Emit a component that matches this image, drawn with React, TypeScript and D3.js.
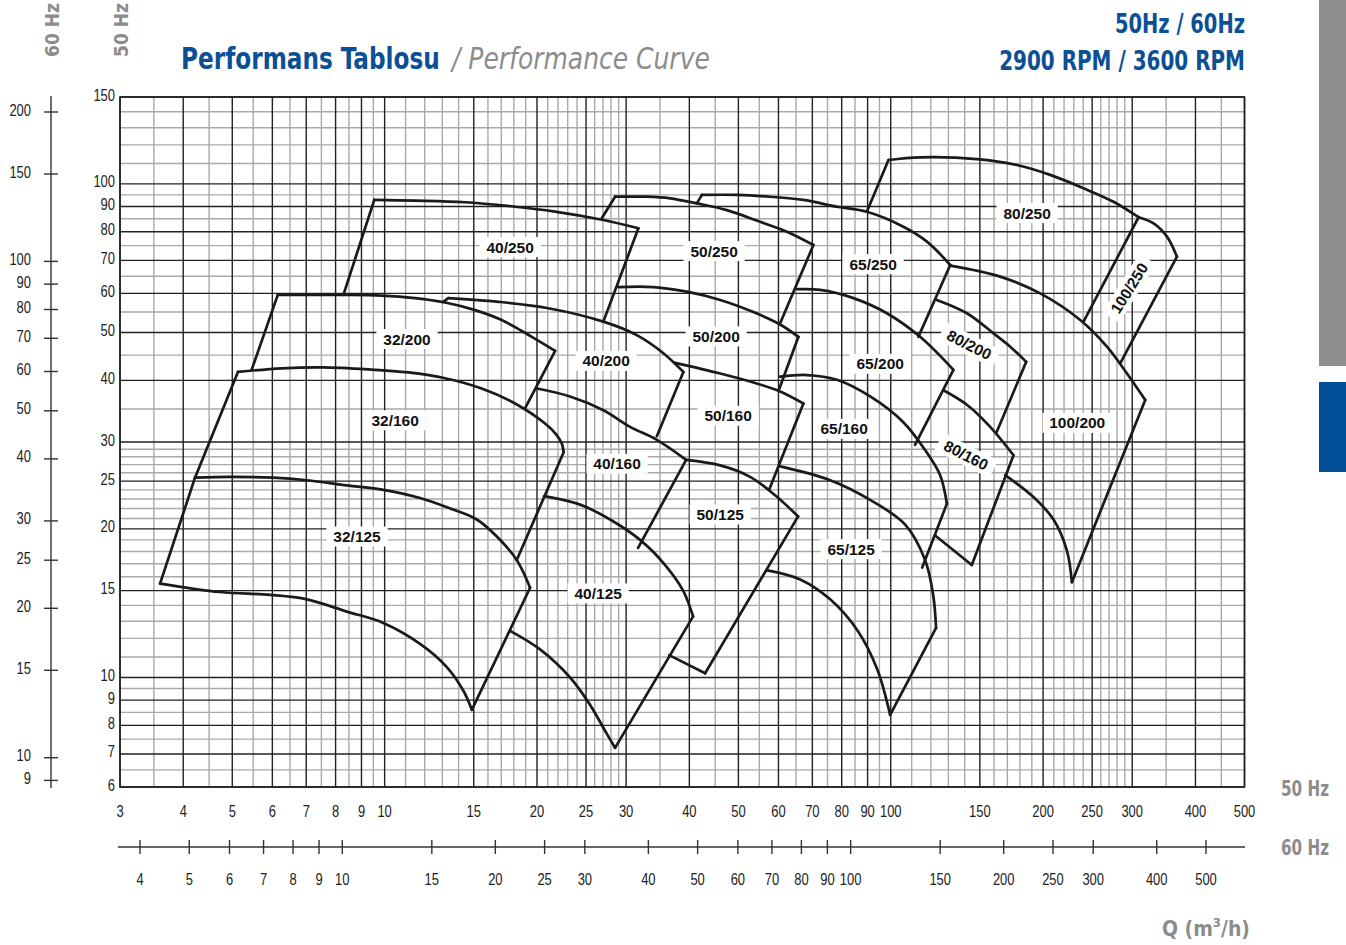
import React, { useEffect, useLayoutEffect, useRef, useState } from 'react';
import * as d3 from 'd3';

type Pt = [number, number];

// log paper grid (Q in m3/h, H in m)
const xMajor = [3, 4, 5, 6, 7, 8, 9, 10, 15, 20, 25, 30, 40, 50, 60, 70, 80, 90, 100, 150, 200, 250, 300, 400, 500];
const xMinor = [3.5, 4.5, 5.5, 6.5, 7.5, 8.5, 9.5, 11, 12, 13, 14, 16, 17, 18, 19, 21, 22, 23, 24, 26, 27, 28, 29,
  35, 45, 55, 65, 75, 85, 95, 110, 120, 130, 140, 160, 170, 180, 190, 210, 220, 230, 240, 260, 270, 280, 290, 350, 450];
const yMajor = [6, 7, 8, 9, 10, 15, 20, 25, 30, 40, 50, 60, 70, 80, 90, 100, 150];
const yMinor = [6.5, 7.5, 8.5, 9.5, 11, 12, 13, 14, 16, 17, 18, 19, 21, 22, 23, 24, 26, 27, 28, 29,
  35, 45, 55, 65, 75, 85, 95, 110, 120, 130, 140];

const qTicks60 = [4, 5, 6, 7, 8, 9, 10, 15, 20, 25, 30, 40, 50, 60, 70, 80, 90, 100, 150, 200, 250, 300, 400, 500];
const hTicks60 = [9, 10, 15, 20, 25, 30, 40, 50, 60, 70, 80, 90, 100, 150, 200];

// impeller curves [Q, H] at 50 Hz
const c32_125_top: Pt[] = [[4.22, 25.4], [4.95, 25.5], [6.03, 25.4], [7.02, 25.1], [8.42, 24.5], [9.94, 24.0], [11.75, 23.1], [13.47, 22.0], [15.21, 20.9], [16.66, 19.3], [18.24, 17.3], [19.38, 15.2]];
const c32_125_bot: Pt[] = [[3.6, 15.5], [4.73, 14.9], [5.94, 14.7], [7.02, 14.4], [8.42, 13.6], [9.94, 12.9], [11.75, 11.7], [13.27, 10.5], [14.31, 9.4], [14.87, 8.6]];
const c32_160_top: Pt[] = [[5.13, 41.6], [6.26, 42.3], [7.51, 42.5], [9.29, 42.1], [11.14, 41.5], [13.17, 40.4], [15.55, 38.5], [18.1, 35.9], [20.75, 32.7], [21.82, 31.1], [22.39, 29.8], [22.58, 28.6]];
const c32_200_top: Pt[] = [[6.15, 59.6], [8.23, 59.6], [9.87, 59.4], [11.48, 58.7], [13.17, 57.5], [15.09, 55.5], [17.03, 53.0], [19.53, 49.0], [21.72, 45.9]];
const c40_250_top: Pt[] = [[9.54, 92.8], [11.48, 92.5], [14.42, 91.8], [18.1, 89.9], [21.55, 88.0], [27.05, 84.5], [31.72, 81.3]];
const c40_200_top: Pt[] = [[13.36, 58.7], [16.78, 57.7], [21.06, 56.0], [27.05, 52.6], [31.49, 49.4], [35.54, 45.4], [38.93, 41.6]];
const c40_160_top: Pt[] = [[20.01, 38.5], [23.25, 37.1], [27.05, 34.8], [30.55, 32.2], [34.5, 30.3], [39.42, 27.6]];
const c40_125_top: Pt[] = [[20.65, 23.3], [24.33, 22.4], [27.89, 20.9], [31.97, 19.0], [35.83, 16.9], [38.88, 15.0], [40.69, 13.3]];
const c40_125_bot: Pt[] = [[17.77, 12.4], [20.28, 11.4], [23.25, 10.0], [25.47, 8.8], [27.26, 7.8], [28.53, 7.2]];
const c50_250_top: Pt[] = [[28.53, 94.2], [32.96, 94.2], [36.66, 93.5], [41.39, 91.3], [47.44, 88.5], [55.2, 83.8], [62.34, 80.0], [70.34, 75.2]];
const c50_200_top: Pt[] = [[28.96, 61.8], [33.97, 61.8], [39.54, 60.5], [46.03, 58.2], [53.55, 55.0], [60.46, 51.9], [65.7, 49.0]];
const c50_160_top: Pt[] = [[37.5, 43.4], [46.03, 41.3], [53.55, 39.6], [60.0, 38.1], [67.21, 35.9]];
const c50_125_top: Pt[] = [[39.42, 27.6], [46.03, 26.9], [52.75, 25.5], [59.1, 23.4], [65.61, 21.2]];
const c65_250_top: Pt[] = [[42.35, 95.0], [49.65, 95.0], [57.77, 94.2], [67.21, 92.8], [78.25, 89.9], [89.7, 87.8], [105.9, 81.9], [117.9, 76.4], [131.1, 68.5]];
const c65_200_top: Pt[] = [[65.23, 61.2], [72.53, 61.0], [84.4, 58.7], [98.24, 54.7], [114.3, 49.0], [133.0, 42.0]];
const c65_160_top: Pt[] = [[60.46, 40.7], [68.26, 41.0], [78.25, 40.1], [91.06, 37.1], [105.9, 32.9], [116.9, 28.9], [125.2, 25.7], [129.1, 22.5]];
const c65_125_top: Pt[] = [[60.19, 26.8], [75.91, 25.1], [91.06, 22.9], [106.8, 20.4], [116.9, 17.3], [121.3, 14.7], [122.9, 12.6]];
const c65_125_bot: Pt[] = [[56.73, 16.5], [66.22, 15.8], [75.91, 14.4], [86.22, 12.4], [94.0, 10.4], [99.72, 8.4]];
const c80_250_top: Pt[] = [[98.97, 111.8], [114.3, 113.2], [148.0, 112.3], [177.5, 109.2], [206.5, 104.3], [240.4, 98.0], [275.5, 92.0], [308.8, 85.6]];
const c100_250_top: Pt[] = [[308.8, 85.6], [330.6, 83.2], [351.4, 78.2], [367.7, 71.2]];
const c100_200_top: Pt[] = [[131.1, 68.3], [164.5, 64.9], [197.4, 60.0], [236.8, 53.0], [267.4, 46.8], [292.9, 41.3], [318.3, 36.5]];
const c100_200_bot: Pt[] = [[168.3, 25.7], [191.4, 23.2], [209.7, 20.9], [222.8, 18.1], [228.0, 15.6]];
const c80_200_top: Pt[] = [[123.3, 58.2], [141.4, 54.7], [159.6, 49.8], [172.2, 46.8], [185.2, 43.6]];
const c80_160_top: Pt[] = [[127.1, 38.2], [141.4, 35.7], [157.2, 32.2], [174.8, 28.2]];

const curves: Pt[][] = [
  c32_125_top, c32_125_bot, c32_160_top, c32_200_top, c40_250_top, c40_200_top, c40_160_top,
  c40_125_top, c40_125_bot, c50_250_top, c50_200_top, c50_160_top, c50_125_top, c65_250_top,
  c65_200_top, c65_160_top, c65_125_top, c65_125_bot, c80_250_top, c100_250_top, c100_200_top,
  c100_200_bot, c80_200_top, c80_160_top,
];

// straight limits between the curves
const edges: Pt[][] = [
  [[3.6, 15.5], [4.22, 25.4]],
  [[19.38, 15.2], [14.87, 8.6]],
  [[4.22, 25.4], [5.13, 41.6]],
  [[22.58, 28.6], [18.24, 17.3]],
  [[5.46, 42.0], [6.15, 59.6]],
  [[21.72, 45.9], [18.94, 35.1]],
  [[8.29, 59.6], [9.54, 92.8]],
  [[31.72, 81.3], [27.05, 52.6]],
  [[13.06, 57.7], [13.36, 58.7]],
  [[38.93, 41.6], [34.5, 30.8]],
  [[39.42, 27.6], [31.68, 18.3]],
  [[40.69, 13.3], [28.53, 7.2]],
  [[26.86, 85.2], [28.53, 94.2]],
  [[70.34, 75.2], [60.46, 52.2]],
  [[65.7, 49.0], [60.26, 38.5]],
  [[67.21, 35.9], [57.51, 24.0]],
  [[65.61, 21.2], [42.98, 10.2]],
  [[36.49, 11.1], [42.98, 10.2]],
  [[41.39, 91.3], [42.35, 95.0]],
  [[131.1, 68.5], [113.4, 49.0]],
  [[133.0, 42.0], [111.7, 29.6]],
  [[129.1, 22.5], [115.4, 16.7]],
  [[122.9, 12.6], [99.72, 8.4]],
  [[89.7, 87.8], [98.97, 111.8]],
  [[308.8, 85.6], [240.4, 52.6]],
  [[367.7, 71.2], [284.1, 43.3]],
  [[185.2, 43.6], [162.1, 31.5]],
  [[174.8, 28.2], [144.6, 16.9]],
  [[122.4, 19.4], [144.6, 16.9]],
  [[318.3, 36.5], [228.0, 15.6]],
];

const pumpNames = ['40/250', '50/250', '65/250', '80/250', '32/200', '40/200', '50/200', '65/200', '32/160', '40/160',
  '50/160', '65/160', '80/200', '80/160', '100/250', '100/200', '32/125', '40/125', '50/125', '65/125'];
const pumpLabelQ = [17.7, 44.77, 92.3, 186.0, 11.07, 27.39, 45.19, 95.3, 10.49, 28.79, 47.72, 80.9, 142.9, 140.9, 295.9, 233.6, 8.82, 26.42, 46.03, 83.5];
const pumpLabelH = [74.5, 73.1, 68.8, 87.3, 48.5, 43.8, 49.1, 43.2, 33.2, 27.1, 33.9, 31.9, 47.2, 28.2, 61.5, 32.8, 19.3, 14.8, 21.4, 18.2];
const pumpLabelRot = [0, 0, 0, 0, 0, 0, 0, 0, 0, 0, 0, 0, 27, 27, -58, 0, 0, 0, 0, 0];

const NARROW = '"Liberation Sans Narrow", "Arial Narrow", "Liberation Sans", Arial, sans-serif';
const COND = '"DejaVu Sans Condensed", "Liberation Sans Narrow", "Liberation Sans", sans-serif';
const SANS = '"Liberation Sans", Arial, Helvetica, sans-serif';
const BLUE = '#0b4f95';
const GREY = '#8c8c8c';

// tick labels are set in a narrow face: squeeze to the reference width
const tickLen = (v: number) => String(v).length * 7.2;

// text squeezed horizontally to a given width (condensed heading look)
function FitText(props: { x: number; y: number; width: number; anchor?: string; children: React.ReactNode; [k: string]: any }) {
  const { x, y, width, anchor = 'start', children, ...rest } = props;
  const ref = useRef<SVGTextElement>(null);
  const [k, setK] = useState(1);
  useLayoutEffect(() => {
    if (ref.current) {
      const w = ref.current.getComputedTextLength();
      if (w > 0) setK(width / w);
    }
  }, [width]);
  return (
    <text ref={ref} transform={`translate(${x},${y}) scale(${k},1)`} textAnchor={anchor} {...rest}>{children}</text>
  );
}

export default function App() {
  useEffect(() => {
    document.body.style.margin = '0';
    document.body.style.overflow = 'hidden';
  }, []);

  const x = d3.scaleLog().domain([3, 500]).range([120, 1244.5]);
  const y = d3.scaleLog().domain([6, 150]).range([787, 97]);
  const x60 = d3.scaleLog().domain([4, 500]).range([140, 1206]);
  const y60 = d3.scaleLog().domain([10, 200]).range([757.7, 112]);

  const smooth = d3.line<Pt>().x(d => x(d[0])).y(d => y(d[1])).curve(d3.curveCatmullRom.alpha(0.5));
  const straight = d3.line<Pt>().x(d => x(d[0])).y(d => y(d[1]));

  const [x0, x1] = x.range();
  const [y0, y1] = y.range();

  return (
    <svg width={1346} height={945} style={{ position: 'absolute', left: 0, top: 0, background: '#fff' }}>
      <rect x={0} y={0} width={1346} height={945} fill="#fff" />

      {/* side tabs */}
      <rect x={1319} y={0} width={27} height={366} fill="#8f8f8e" />
      <rect x={1319} y={382} width={27} height={90} fill="#014f96" />

      {/* titles */}
      <FitText x={181} y={69} width={259} fontFamily={COND} fontWeight="bold" fontSize={31} fill={BLUE}>Performans Tablosu</FitText>
      <FitText x={452} y={69} width={258} fontFamily={COND} fontStyle="italic" fontSize={30} fill={GREY}>/ Performance Curve</FitText>
      <FitText x={1245} y={33} width={130} anchor="end" fontFamily={COND} fontWeight="bold" fontSize={26} fill={BLUE}>50Hz / 60Hz</FitText>
      <FitText x={1245} y={70} width={246} anchor="end" fontFamily={COND} fontWeight="bold" fontSize={26} fill={BLUE}>2900 RPM / 3600 RPM</FitText>

      <text transform="translate(59,57) rotate(-90)" fontFamily={COND} fontWeight="bold" fontSize={19} fill={GREY}>60 Hz</text>
      <text transform="translate(128,57) rotate(-90)" fontFamily={COND} fontWeight="bold" fontSize={19} fill={GREY}>50 Hz</text>

      <FitText x={1281} y={796} width={48} fontFamily={COND} fontWeight="bold" fontSize={22} fill={GREY}>50 Hz</FitText>
      <FitText x={1281} y={855} width={48} fontFamily={COND} fontWeight="bold" fontSize={22} fill={GREY}>60 Hz</FitText>
      <text x={1250} y={936} textAnchor="end" fontFamily={COND} fontWeight="bold" fontSize={21} fill={GREY}>
        Q (m<tspan fontSize={13} dy={-9}>3</tspan><tspan dy={9}>/h)</tspan>
      </text>

      {/* grid */}
      <g>
        {xMinor.map(v => <line key={'xm' + v} x1={x(v)} x2={x(v)} y1={y1} y2={y0} stroke="#a9a9a9" strokeWidth={1.4} />)}
        {yMinor.map(v => <line key={'ym' + v} x1={x0} x2={x1} y1={y(v)} y2={y(v)} stroke="#a9a9a9" strokeWidth={1.4} />)}
        {xMajor.map(v => <line key={'xM' + v} x1={x(v)} x2={x(v)} y1={y1} y2={y0} stroke="#222" strokeWidth={1.4} />)}
        {yMajor.map(v => <line key={'yM' + v} x1={x0} x2={x1} y1={y(v)} y2={y(v)} stroke="#222" strokeWidth={1.4} />)}
        <rect x={x0} y={y1} width={x1 - x0} height={y0 - y1} fill="none" stroke="#222" strokeWidth={1.6} />
      </g>

      {/* 50 Hz labels */}
      <g fontFamily={NARROW} fontSize={16} fill="#222">
        {yMajor.map(v => <text key={'yl' + v} x={115} y={y(v) - 2} textAnchor="end" dominantBaseline="central" textLength={tickLen(v)} lengthAdjust="spacingAndGlyphs">{v}</text>)}
        {xMajor.map(v => <text key={'xl' + v} x={x(v)} y={811} textAnchor="middle" dominantBaseline="central" textLength={tickLen(v)} lengthAdjust="spacingAndGlyphs">{v}</text>)}
      </g>

      {/* 60 Hz axes */}
      <g stroke="#333" strokeWidth={1.4}>
        <line x1={51} x2={51} y1={96} y2={788} />
        {hTicks60.map(v => <line key={'ht' + v} x1={44} x2={58} y1={y60(v)} y2={y60(v)} />)}
        <line x1={118} x2={1245} y1={847} y2={847} />
        {qTicks60.map(v => <line key={'qt' + v} x1={x60(v)} x2={x60(v)} y1={840} y2={854} />)}
      </g>
      <g fontFamily={NARROW} fontSize={16} fill="#222">
        {hTicks60.map(v => <text key={'hl' + v} x={31} y={y60(v) - 2} textAnchor="end" dominantBaseline="central" textLength={tickLen(v)} lengthAdjust="spacingAndGlyphs">{v}</text>)}
        {qTicks60.map(v => <text key={'ql' + v} x={x60(v)} y={879} textAnchor="middle" dominantBaseline="central" textLength={tickLen(v)} lengthAdjust="spacingAndGlyphs">{v}</text>)}
      </g>

      {/* curves */}
      <g fill="none" stroke="#1a1a1a" strokeWidth={2.7} strokeLinejoin="round" strokeLinecap="round">
        {curves.map((c, i) => <path key={'c' + i} d={smooth(c) || ''} />)}
        {edges.map((e, i) => <path key={'e' + i} d={straight(e) || ''} />)}
      </g>

      {/* pump labels */}
      <g fontFamily={SANS} fontWeight="bold" fontSize={15.5} fill="#111">
        {pumpNames.map((name, i) => {
          const w = name.length * 8.2 + 12;
          return (
            <g key={name} transform={`translate(${x(pumpLabelQ[i])},${y(pumpLabelH[i])}) rotate(${pumpLabelRot[i]})`}>
              <rect x={-w / 2} y={-10} width={w} height={20} fill="#fff" />
              <text x={0} y={0} textAnchor="middle" dominantBaseline="central">{name}</text>
            </g>
          );
        })}
      </g>
    </svg>
  );
}
